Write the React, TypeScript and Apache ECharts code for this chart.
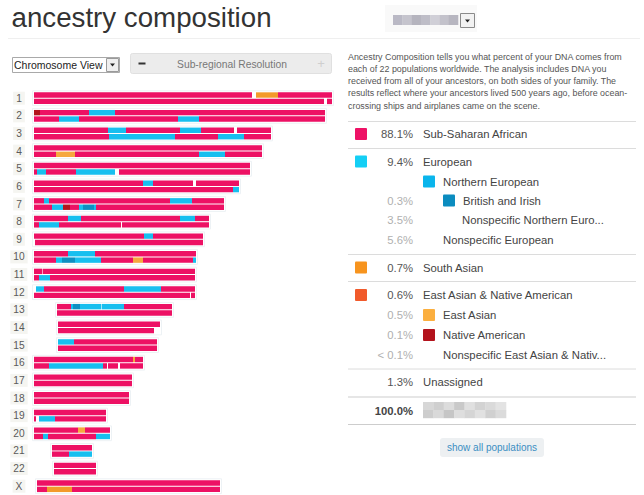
import React, { useEffect, useRef } from "react";
import * as echarts from "echarts";

// ---------- data ----------
const chromNames = ["1","2","3","4","5","6","7","8","9","10","11","12","13","14","15","16","17","18","19","20","21","22","X"];

// population keys used by chromosome segments
const popKeys = ["SSA", "EUR", "BRI", "SAS", "EAS", "NAM"];
const popColors = ["#ED1164", "#17BFEF", "#0E8FC2", "#F39A2A", "#F6A83E", "#B3141C"];

type Seg = [number, number, string]; // start, end, population
// each chromosome: [copy A segments, copy B segments]
const chr1: Seg[][] = [[[0,218,"SSA"],[222,244,"SAS"],[244,298,"SSA"]],[[0,290,"SSA"],[293,298,"SSA"]]];
const chr2: Seg[][] = [[[0,6,"NAM"],[6,55,"SSA"],[55,81,"EUR"],[81,291,"SSA"]],[[0,25,"SSA"],[25,45,"EUR"],[45,144,"SSA"],[144,165,"EUR"],[165,291,"SSA"]]];
const chr3: Seg[][] = [[[0,74,"SSA"],[74,92,"EUR"],[92,146,"SSA"],[146,167,"EUR"],[167,200,"SSA"],[203,237,"SSA"]],[[0,75,"SSA"],[75,141,"EUR"],[141,184,"SSA"],[184,210,"EUR"],[210,237,"SSA"]]];
const chr4: Seg[][] = [[[0,228,"SSA"]],[[0,22,"SSA"],[22,41,"EAS"],[41,165,"SSA"],[165,191,"EUR"],[191,228,"SSA"]]];
const chr5: Seg[][] = [[[0,216,"SSA"]],[[0,3,"SSA"],[3,12,"EUR"],[12,42,"SSA"],[42,81,"EUR"],[85,216,"SSA"]]];
const chr6: Seg[][] = [[[0,109,"SSA"],[109,119,"EUR"],[119,159,"SSA"],[162,205,"SSA"]],[[0,199,"SSA"],[199,205,"EUR"]]];
const chr7: Seg[][] = [[[0,10,"SSA"],[10,15,"EUR"],[15,136,"SSA"],[136,158,"EUR"],[158,190,"SSA"]],[[0,18,"SSA"],[18,29,"EUR"],[29,36,"NAM"],[36,45,"SSA"],[45,49,"EUR"],[49,60,"BRI"],[60,62,"EUR"],[62,190,"SSA"]]];
const chr8: Seg[][] = [[[0,34,"SSA"],[34,47,"EUR"],[47,146,"SSA"],[146,161,"EUR"],[161,175,"SSA"]],[[0,5,"SSA"],[5,25,"EUR"],[25,87,"SSA"],[88,175,"SSA"]]];
const chr9: Seg[][] = [[[0,110,"SSA"],[110,119,"EUR"],[119,169,"SSA"]],[[1,169,"SSA"]]];
const chr10: Seg[][] = [[[0,34,"SSA"],[34,61,"EUR"],[61,162,"SSA"]],[[0,22,"SSA"],[22,28,"EUR"],[28,41,"BRI"],[41,67,"EUR"],[67,99,"SSA"],[99,109,"EAS"],[109,159,"SSA"],[159,162,"EUR"]]];
const chr11: Seg[][] = [[[0,8,"SSA"],[8.6,161,"SSA"]],[[0,5,"SSA"],[5,16,"EUR"],[16,161,"SSA"]]];
const chr12: Seg[][] = [[[2,10,"EUR"],[10,90,"SSA"],[90,127,"EUR"],[127,161,"SSA"]],[[0,156,"SSA"],[157,161,"SSA"]]];
const chr13: Seg[][] = [[[23,37,"SSA"],[37,39,"EUR"],[39,46,"BRI"],[46,67,"EUR"],[67.6,90,"EUR"],[90,138,"SSA"]],[[23,138,"SSA"]]];
const chr14: Seg[][] = [[[24,126,"SSA"]],[[24,120,"SSA"]]];
const chr15: Seg[][] = [[[24,40,"EUR"],[40,123,"SSA"]],[[24,123,"SSA"]]];
const chr16: Seg[][] = [[[0,99,"SSA"],[99,101,"EAS"],[101,109,"SSA"]],[[0,15,"SSA"],[15,69,"EUR"],[69,73,"SSA"],[74,84,"SSA"],[86,109,"SSA"]]];
const chr17: Seg[][] = [[[0,98,"SSA"]],[[0,98,"SSA"]]];
const chr18: Seg[][] = [[[0,95,"SSA"]],[[0,95,"SSA"]]];
const chr19: Seg[][] = [[[0,72,"SSA"]],[[0,2,"SSA"],[5,21,"EUR"],[21,72,"SSA"]]];
const chr20: Seg[][] = [[[0,44,"SSA"],[44,51,"EAS"],[51,76,"SSA"]],[[0,9,"SSA"],[9,14,"EUR"],[14,62,"SSA"],[62,76,"EUR"]]];
const chr21: Seg[][] = [[[18,58,"SSA"]],[[18,35,"SSA"],[35,58,"EUR"]]];
const chr22: Seg[][] = [[[20,62,"SSA"]],[[20,62,"SSA"]]];
const chrX: Seg[][] = [[[3,186,"SSA"]],[[3,13,"SSA"],[13,38,"SAS"],[38,186,"SSA"]]];

const chromosomes = [chr1,chr2,chr3,chr4,chr5,chr6,chr7,chr8,chr9,chr10,chr11,chr12,chr13,chr14,chr15,chr16,chr17,chr18,chr19,chr20,chr21,chr22,chrX];

// legend (ancestry composition table)
const legendPct = ["88.1%","9.4%","","0.3%","3.5%","5.6%","0.7%","0.6%","0.5%","0.1%","< 0.1%","1.3%"];
const legendLabel = ["Sub-Saharan African","European","Northern European","British and Irish","Nonspecific Northern Euro...","Nonspecific European","South Asian","East Asian & Native American","East Asian","Native American","Nonspecific East Asian & Nativ...","Unassigned"];
const legendLevel = [0,0,1,2,2,1,0,0,1,1,1,0];
const legendColor = ["#EE1266","#14CFF5","#0AB5EC","#0B8CBF",null,null,"#F7941E","#F15A2B","#FBAF3F","#B3131C",null,null];
const legendMain = [true,true,false,false,false,false,true,true,false,false,false,true];
const legendRowY = [134,161.5,181.5,200.5,220,240,267.5,295,315,335,355,382];
const separatorY = [121,148,254,281,368.5];

const paragraph = [
  "Ancestry Composition tells you what percent of your DNA comes from",
  "each of 22 populations worldwide. The analysis includes DNA you",
  "received from all of your ancestors, on both sides of your family. The",
  "results reflect where your ancestors lived 500 years ago, before ocean-",
  "crossing ships and airplanes came on the scene.",
];

const blurTop = ["#bab9c5","#c5c4cd","#b5b4be","#bebdc7","#d0cfd7","#c3c2cb","#b7b6c0"];
const blurName = ["#d7d7d7","#cfcfcf","#dcdcdc","#c9c9c9","#e0e0e0","#d3d3d3","#dadada","#e3e3e3","#cdcdcd","#d9d9d9","#c6c6c6","#dedede","#d5d5d5","#e1e1e1","#d0d0d0","#dbdbdb"];

const FONT = "'Liberation Sans', Arial, Helvetica, sans-serif";

function txt(x: number, y: number, text: string, size: number, fill: string, align = "left", weight = "normal", vAlign = "middle") {
  return {
    type: "text", x, y, silent: true,
    style: { text, fill, fontSize: size, fontFamily: FONT, fontWeight: weight, align, textAlign: align, verticalAlign: vAlign, textVerticalAlign: vAlign },
  };
}

export default function App() {
  const ref = useRef<HTMLDivElement>(null);
  useEffect(() => {
    if (!ref.current) return;
    const chart = echarts.init(ref.current, null, { renderer: "svg" });

    const segData: number[][] = [];
    const outlineData: number[][] = [];
    chromosomes.forEach((chr, row) => {
      let lo = Infinity, hi = -Infinity;
      chr.forEach((copy, ci) => {
        copy.forEach(([s, e, p]) => {
          segData.push([row, ci, s, e, popKeys.indexOf(p)]);
          lo = Math.min(lo, s); hi = Math.max(hi, e);
        });
      });
      outlineData.push([row, lo, hi]);
    });

    const g: any[] = [];
    // title
    g.push(txt(11.5, 17.5, "ancestry composition", 27.7, "#333"));
    g.push({ type: "line", silent: true, shape: { x1: 8, y1: 38.5, x2: 640, y2: 38.5 }, style: { stroke: "#efefef", lineWidth: 1 } });
    // top-right blurred dropdown
    g.push({ type: "rect", silent: true, shape: { x: 385, y: 5, width: 92, height: 27 }, style: { fill: "#f9f9f9" } });
    const bw = 65 / blurTop.length;
    blurTop.forEach((c, i) => g.push({ type: "rect", silent: true, shape: { x: 393 + i * bw, y: 15, width: bw + 0.3, height: 10 }, style: { fill: c } }));
    g.push({ type: "rect", silent: true, shape: { x: 460.5, y: 13.5, width: 14, height: 14 }, style: { fill: "#f2f2f2", stroke: "#8a8a8a", lineWidth: 1 } });
    g.push({ type: "polygon", silent: true, shape: { points: [[465, 19.5], [470, 19.5], [467.5, 22.5]] }, style: { fill: "#222" } });

    // chromosome view select
    g.push({ type: "rect", silent: true, shape: { x: 12.5, y: 57.5, width: 107, height: 15 }, style: { fill: "#fff", stroke: "#a9a9a9", lineWidth: 1 } });
    g.push(txt(14, 65.3, "Chromosome View", 10.5, "#222"));
    g.push({ type: "rect", silent: true, shape: { x: 106.5, y: 58.5, width: 12, height: 13 }, style: { fill: "#efefef", stroke: "#9a9a9a", lineWidth: 1 } });
    g.push({ type: "polygon", silent: true, shape: { points: [[110, 63.5], [115, 63.5], [112.5, 66.5]] }, style: { fill: "#222" } });

    // sub-regional resolution control
    g.push({ type: "rect", silent: true, shape: { x: 130.5, y: 53.5, width: 201, height: 20, r: 2 }, style: { fill: "#ececec", stroke: "#e0e0e0", lineWidth: 1 } });
    g.push({ type: "rect", silent: true, shape: { x: 138.5, y: 62.5, width: 7, height: 2 }, style: { fill: "#333" } });
    g.push(txt(232, 64.3, "Sub-regional Resolution", 10.3, "#777", "center"));
    g.push(txt(321, 63.5, "+", 13, "#cfcfcf", "center"));

    // description paragraph
    g.push({
      type: "text", x: 348, y: 50.6, silent: true,
      style: { text: paragraph.join("\n"), fill: "#555", fontSize: 8.9, fontFamily: FONT, lineHeight: 12.25, align: "left", textAlign: "left", verticalAlign: "top", textVerticalAlign: "top" },
    });

    // separators
    separatorY.forEach((y) => g.push({ type: "line", silent: true, shape: { x1: 348, y1: y + 0.5, x2: 636, y2: y + 0.5 }, style: { stroke: "#dcdcdc", lineWidth: 1 } }));
    [396.5, 424].forEach((y) => g.push({ type: "line", silent: true, shape: { x1: 348, y1: y + 0.5, x2: 636, y2: y + 0.5 }, style: { stroke: "#cdcdcd", lineWidth: 1 } }));

    // legend rows
    const sqX = [355, 423, 443];
    const lblX = [423, 443, 462];
    legendLabel.forEach((label, i) => {
      const lv = legendLevel[i];
      const y = legendRowY[i];
      const col = legendColor[i];
      if (col) g.push({ type: "rect", silent: true, shape: { x: sqX[lv], y: y - 6, width: 12, height: 12, r: 1 }, style: { fill: col } });
      if (legendPct[i]) g.push(txt(413, y, legendPct[i], 11.3, legendMain[i] ? "#555" : "#b0b0b0", "right"));
      const lx = lv === 0 ? lblX[0] : (col ? sqX[lv] + 20 : lblX[lv]);
      g.push(txt(lx, y, label, 11.3, "#444"));
    });
    // total row
    g.push(txt(413, 410.5, "100.0%", 11.3, "#444", "right", "bold"));
    const nb = blurName.length / 2;
    blurName.forEach((c, i) => {
      const cx = i % nb, cy = Math.floor(i / nb);
      g.push({ type: "rect", silent: true, shape: { x: 423 + cx * (83 / nb), y: 402 + cy * 8, width: 83 / nb + 0.3, height: 8.2 }, style: { fill: c } });
    });
    // show all populations button
    g.push({ type: "rect", silent: true, shape: { x: 440, y: 438, width: 104, height: 19, r: 3 }, style: { fill: "#edf0f2" } });
    g.push(txt(492, 447.7, "show all populations", 10, "#3b8ec2", "center"));

    const option: any = {
      animation: false,
      backgroundColor: "#fff",
      grid: { left: 34, top: 89.4, width: 300, height: 23 * 17.65 },
      xAxis: { type: "value", min: 0, max: 300, show: false },
      yAxis: {
        type: "category", data: chromNames, inverse: true,
        axisLine: { show: false }, axisTick: { show: false }, splitLine: { show: false },
        axisLabel: {
          align: "center", margin: 15, color: "#5a5a5a", fontSize: 10.2, fontFamily: FONT,
          backgroundColor: "#f5f5f1", padding: [2, 3, 1, 3], verticalAlign: "middle",
        },
      },
      series: [
        {
          type: "custom", silent: true, data: outlineData, encode: { x: [1, 2], y: 0 },
          renderItem: (params: any, api: any) => {
            const row = api.value(0);
            const p0 = api.coord([api.value(1), row]);
            const p1 = api.coord([api.value(2), row]);
            return {
              type: "rect",
              shape: { x: Math.round(p0[0]) - 1.5, y: p0[1] - 7.4, width: p1[0] - p0[0] + 3, height: 14.8 },
              style: { fill: "#fff", stroke: "#edf2f5", lineWidth: 1 },
            };
          },
        },
        {
          type: "custom", silent: true, data: segData, encode: { x: [2, 3], y: 0 },
          renderItem: (params: any, api: any) => {
            const row = api.value(0);
            const copy = api.value(1);
            const p0 = api.coord([api.value(2), row]);
            const p1 = api.coord([api.value(3), row]);
            const y = copy === 0 ? p0[1] - 5.9 : p0[1] + 0.5;
            return {
              type: "rect",
              shape: { x: p0[0], y, width: p1[0] - p0[0], height: 5.4 },
              style: { fill: popColors[api.value(4)] },
            };
          },
        },
      ],
      graphic: { elements: g },
    };
    chart.setOption(option);
    return () => chart.dispose();
  }, []);
  return <div ref={ref} style={{ position: "absolute", left: 0, top: 0, width: 644, height: 495 }} />;
}
